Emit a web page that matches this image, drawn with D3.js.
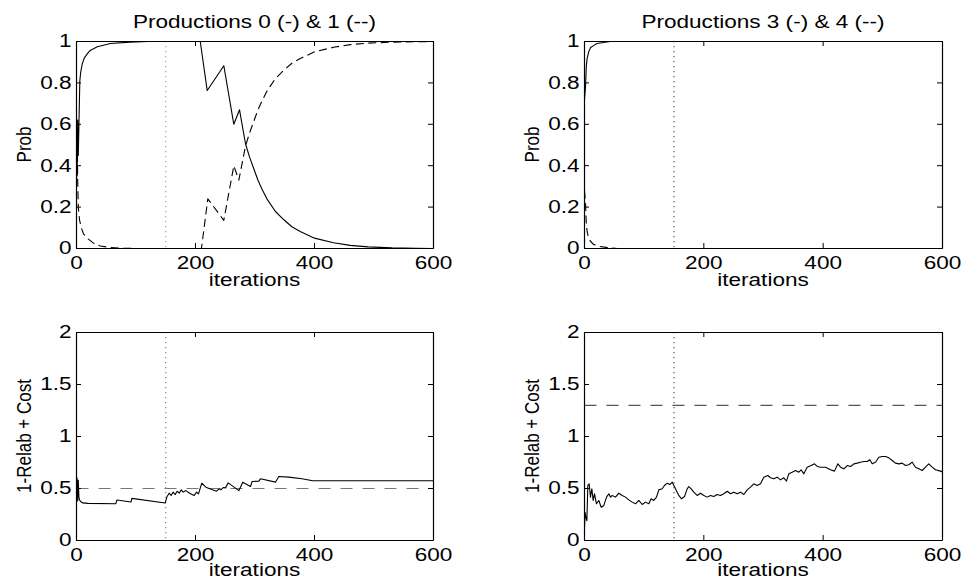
<!DOCTYPE html>
<html>
<head>
<meta charset="utf-8">
<script src="https://cdn.jsdelivr.net/npm/d3@7"></script>
<style>
  html, body { margin: 0; padding: 0; background: #fff; }
  svg { display: block; }
</style>
</head>
<body>
<div id="chart"></div>
<script>
// ---------- data ----------
const xTicks = [0, 200, 400, 600];
const probTicks = [0, 0.2, 0.4, 0.6, 0.8, 1];
const costTicks = [0, 0.5, 1, 1.5, 2];
const switchIter = 150;

const titles = ["Productions 0 (-) & 1 (--)", "Productions 3 (-) & 4 (--)"];
const yLabels = ["Prob", "1-Relab + Cost"];
const xLabel = "iterations";

// Top-left: production 0 (solid) and production 1 (dashed)
const prod0Iter = [0, 1, 2, 3, 5.6, 7, 9.5, 13, 18, 23, 35, 57, 90, 120, 208, 219.7, 247.6, 264.4, 274, 284, 291, 298, 305, 312, 320, 334, 348, 362, 376, 400, 432, 460, 490, 530, 570, 600];
const prod0Prob = [0.5, 0.35, 0.62, 0.45, 0.81, 0.85, 0.89, 0.92, 0.94, 0.957, 0.975, 0.99, 0.997, 1, 1, 0.763, 0.883, 0.60, 0.67, 0.506, 0.44, 0.385, 0.33, 0.285, 0.24, 0.18, 0.14, 0.105, 0.082, 0.05, 0.028, 0.015, 0.008, 0.003, 0.001, 0];
const prod1Iter = [0, 1, 2, 3, 5, 8, 12, 20, 29, 40, 57, 80, 100, 210, 220.7, 247.6, 264.4, 272.8, 284, 291, 298, 305, 312, 320, 334, 348, 362, 376, 400, 432, 460, 490, 530, 570, 600];
const prod1Prob = [0.48, 0.62, 0.33, 0.2, 0.14, 0.1, 0.07, 0.045, 0.025, 0.012, 0.005, 0.001, 0, 0, 0.24, 0.136, 0.40, 0.33, 0.494, 0.56, 0.615, 0.67, 0.715, 0.76, 0.82, 0.86, 0.895, 0.918, 0.95, 0.972, 0.985, 0.992, 0.997, 0.999, 1];

// Top-right: production 3 (solid) and production 4 (dashed)
const prod3Iter = [0, 1.7, 3, 4.5, 7, 10, 15, 21, 43, 600];
const prod3Prob = [0.72, 0.78, 0.88, 0.92, 0.95, 0.97, 0.98, 0.99, 1, 1];
const prod4Iter = [0, 1.7, 3, 4.5, 7, 10, 15, 25, 40, 55, 600];
const prod4Prob = [0.28, 0.22, 0.12, 0.08, 0.05, 0.035, 0.02, 0.01, 0.004, 0, 0];

// Bottom-left: cost of productions 0/1 and its reference level
const costLIter = [0, 1, 2, 3, 4, 5, 7, 10, 20, 66, 68, 91.5, 93, 149, 152, 155.7, 159, 162.5, 165.8, 169.2, 172.6, 176, 179.3, 183.8, 190, 197.8, 201.7, 205, 210.6, 217.4, 228.6, 235.3, 239.8, 242.6, 247, 250.4, 255, 273, 279.5, 292.4, 295.2, 306.4, 309.2, 334.4, 340, 356.8, 379, 397, 600];
const costLValue = [0.45, 0.6, 0.38, 0.58, 0.42, 0.39, 0.375, 0.362, 0.357, 0.353, 0.39, 0.37, 0.405, 0.36, 0.42, 0.455, 0.433, 0.465, 0.442, 0.474, 0.455, 0.487, 0.465, 0.48, 0.455, 0.433, 0.465, 0.449, 0.551, 0.513, 0.487, 0.474, 0.497, 0.487, 0.51, 0.506, 0.554, 0.48, 0.561, 0.519, 0.567, 0.571, 0.593, 0.561, 0.615, 0.609, 0.593, 0.574, 0.574];
const costLLevel = 0.5;

// Bottom-right: cost of productions 3/4 and its reference level
const costRIter = [0, 1, 2.5, 4, 5.6, 7.8, 10, 12.3, 14.5, 16.8, 20, 24, 28, 32.4, 36.9, 40.8, 43.6, 46.4, 52, 57.5, 63.2, 68.7, 74.2, 79.9, 85.5, 91, 96.7, 102.2, 107.8, 111.7, 116.1, 120.7, 124.5, 130.2, 134, 138.6, 143, 147, 152.5, 158, 162.6, 167.6, 172.1, 174.8, 178.8, 183.2, 188.8, 194.4, 200, 205.6, 211.2, 216.7, 222.3, 227.9, 233.5, 239.1, 244.7, 250.2, 255.9, 261.4, 267, 272.7, 278.2, 283.8, 289.4, 295, 300.5, 307.2, 311.7, 317.3, 322.9, 328.5, 334, 338.5, 342.4, 348, 353.6, 359.2, 363.1, 367.6, 373.2, 379.9, 385.5, 390, 395.6, 404, 412.3, 419, 424.6, 429.1, 434.7, 440.3, 445.9, 451.5, 457, 462.6, 468.2, 473.8, 478.3, 482.1, 487.7, 493.3, 498.9, 504.5, 510, 515.7, 521.2, 526.8, 532.4, 538, 543.6, 549.2, 554.7, 560.3, 566, 571.5, 577, 582.7, 588.3, 596.6, 600];
const costRValue = [0.12, 0.27, 0.22, 0.19, 0.53, 0.545, 0.417, 0.497, 0.385, 0.449, 0.353, 0.385, 0.32, 0.337, 0.417, 0.449, 0.417, 0.433, 0.417, 0.455, 0.433, 0.417, 0.391, 0.369, 0.353, 0.385, 0.346, 0.369, 0.353, 0.401, 0.385, 0.417, 0.487, 0.497, 0.529, 0.551, 0.538, 0.561, 0.497, 0.433, 0.401, 0.423, 0.497, 0.519, 0.497, 0.465, 0.433, 0.455, 0.433, 0.417, 0.433, 0.423, 0.442, 0.433, 0.449, 0.474, 0.449, 0.465, 0.449, 0.465, 0.442, 0.487, 0.513, 0.545, 0.529, 0.545, 0.609, 0.625, 0.603, 0.593, 0.609, 0.583, 0.603, 0.571, 0.641, 0.657, 0.673, 0.657, 0.68, 0.641, 0.705, 0.721, 0.737, 0.712, 0.705, 0.705, 0.68, 0.667, 0.737, 0.705, 0.689, 0.721, 0.712, 0.737, 0.744, 0.753, 0.76, 0.76, 0.776, 0.737, 0.753, 0.801, 0.808, 0.808, 0.795, 0.769, 0.744, 0.737, 0.744, 0.721, 0.728, 0.753, 0.705, 0.689, 0.673, 0.705, 0.737, 0.705, 0.68, 0.667, 0.66];
const costRLevel = 1.3;

// ---------- drawing ----------
const W = 962, H = 580;
const FONT = "'Liberation Sans', Arial, Helvetica, sans-serif";
const SX = 1.22;            // horizontal stretch of the original figure's text
const PX = 0.5;             // same half-pixel offset d3-axis uses, so marks align with the box
const svg = d3.select("#chart").append("svg").attr("width", W).attr("height", H);
svg.append("rect").attr("width", W).attr("height", H).attr("fill", "#fff");

const zip = (xs, ys) => xs.map((d, i) => [d, ys[i]]);

function panel(cfg, idx) {
  const g = svg.append("g");
  const x = d3.scaleLinear().domain([0, 600]).range([cfg.x0, cfg.x1]);
  const y = d3.scaleLinear().domain(cfg.yDomain).range([cfg.y1, cfg.y0]);

  const clipId = "clip" + idx;
  g.append("clipPath").attr("id", clipId).append("rect")
    .attr("x", cfg.x0).attr("y", cfg.y0 - 1).attr("width", cfg.x1 - cfg.x0 + 1).attr("height", cfg.y1 - cfg.y0 + 2);

  const plot = g.append("g").attr("clip-path", `url(#${clipId})`);

  // switch marker (dotted vertical)
  plot.append("line")
    .attr("x1", x(switchIter) + PX).attr("x2", x(switchIter) + PX)
    .attr("y1", cfg.y0).attr("y2", cfg.y1)
    .attr("stroke", cfg.dotColor).attr("stroke-width", 1.1)
    .attr("stroke-dasharray", "1.3,3.7");

  const line = d3.line().x(d => x(d[0]) + PX).y(d => y(d[1]) + PX);
  cfg.series.forEach(s => {
    plot.append("path").datum(s.data)
      .attr("d", line)
      .attr("fill", "none")
      .attr("stroke", s.color || "#000")
      .attr("stroke-width", s.width || 1.1)
      .attr("stroke-dasharray", s.dash || null)
      .attr("stroke-linejoin", "round");
  });

  // axes box with inward ticks
  const fmt = d => String(d);
  const styleAxis = sel => {
    sel.attr("font-family", FONT).attr("font-size", 18.5);
    sel.selectAll("path.domain").attr("stroke", "#000").attr("stroke-width", 1.2);
    sel.selectAll(".tick line").attr("stroke", "#000").attr("stroke-width", 1);
    sel.selectAll(".tick text").attr("fill", "#000").attr("transform", `scale(${SX},1)`);
  };
  g.append("g").attr("transform", `translate(0,${cfg.y1})`)
    .call(d3.axisBottom(x).tickValues(xTicks).tickSizeInner(-5).tickSizeOuter(0).tickPadding(8).tickFormat(fmt))
    .call(styleAxis);
  g.append("g").attr("transform", `translate(0,${cfg.y0})`)
    .call(d3.axisTop(x).tickValues(xTicks).tickSizeInner(-5).tickSizeOuter(0).tickFormat(() => ""))
    .call(styleAxis);
  g.append("g").attr("transform", `translate(${cfg.x0},0)`)
    .call(d3.axisLeft(y).tickValues(cfg.yTicks).tickSizeInner(-5).tickSizeOuter(0).tickPadding(3.7).tickFormat(fmt))
    .call(styleAxis);
  g.append("g").attr("transform", `translate(${cfg.x1},0)`)
    .call(d3.axisRight(y).tickValues(cfg.yTicks).tickSizeInner(-5).tickSizeOuter(0).tickFormat(() => ""))
    .call(styleAxis);

  // labels
  const cx = (cfg.x0 + cfg.x1) / 2;
  if (cfg.title) {
    g.append("text")
      .attr("transform", `translate(${cx},${cfg.y0 - 13}) scale(${SX},1)`)
      .attr("text-anchor", "middle").attr("font-family", FONT).attr("font-size", 18.5)
      .attr("fill", "#000").text(cfg.title);
  }
  g.append("text")
    .attr("transform", `translate(${cx},${cfg.y1 + cfg.xLabelGap}) scale(${SX},1)`)
    .attr("text-anchor", "middle").attr("font-family", FONT).attr("font-size", 18.5)
    .attr("fill", "#000").text(xLabel);
  g.append("text")
    .attr("transform", `translate(${cfg.x0 - 45},${(cfg.y0 + cfg.y1) / 2}) scale(${SX},1) rotate(-90)`)
    .attr("text-anchor", "middle").attr("font-family", FONT).attr("font-size", 17)
    .attr("fill", "#000").text(cfg.yLabel);
}

const panels = [
  {
    x0: 76, x1: 433, y0: 41, y1: 248, yDomain: [0, 1], yTicks: probTicks, xLabelGap: 38,
    title: titles[0], yLabel: yLabels[0], dotColor: "#999",
    series: [
      { data: zip(prod0Iter, prod0Prob) },
      { data: zip(prod1Iter, prod1Prob), dash: "8,4.5" }
    ]
  },
  {
    x0: 584, x1: 942, y0: 41, y1: 248, yDomain: [0, 1], yTicks: probTicks, xLabelGap: 38,
    title: titles[1], yLabel: yLabels[0], dotColor: "#444",
    series: [
      { data: zip(prod3Iter, prod3Prob) },
      { data: zip(prod4Iter, prod4Prob), dash: "8,4.5" }
    ]
  },
  {
    x0: 76, x1: 433, y0: 332, y1: 540, yDomain: [0, 2], yTicks: costTicks, xLabelGap: 35.5,
    yLabel: yLabels[1], dotColor: "#777",
    series: [
      { data: [[0, costLLevel], [600, costLLevel]], dash: "12,10", color: "#777", width: 1.2 },
      { data: zip(costLIter, costLValue) }
    ]
  },
  {
    x0: 584, x1: 942, y0: 332, y1: 540, yDomain: [0, 2], yTicks: costTicks, xLabelGap: 35.5,
    yLabel: yLabels[1], dotColor: "#444",
    series: [
      { data: [[0, costRLevel], [600, costRLevel]], dash: "12,10", color: "#555", width: 1.2 },
      { data: zip(costRIter, costRValue) }
    ]
  }
];

panels.forEach(panel);
</script>
</body>
</html>
